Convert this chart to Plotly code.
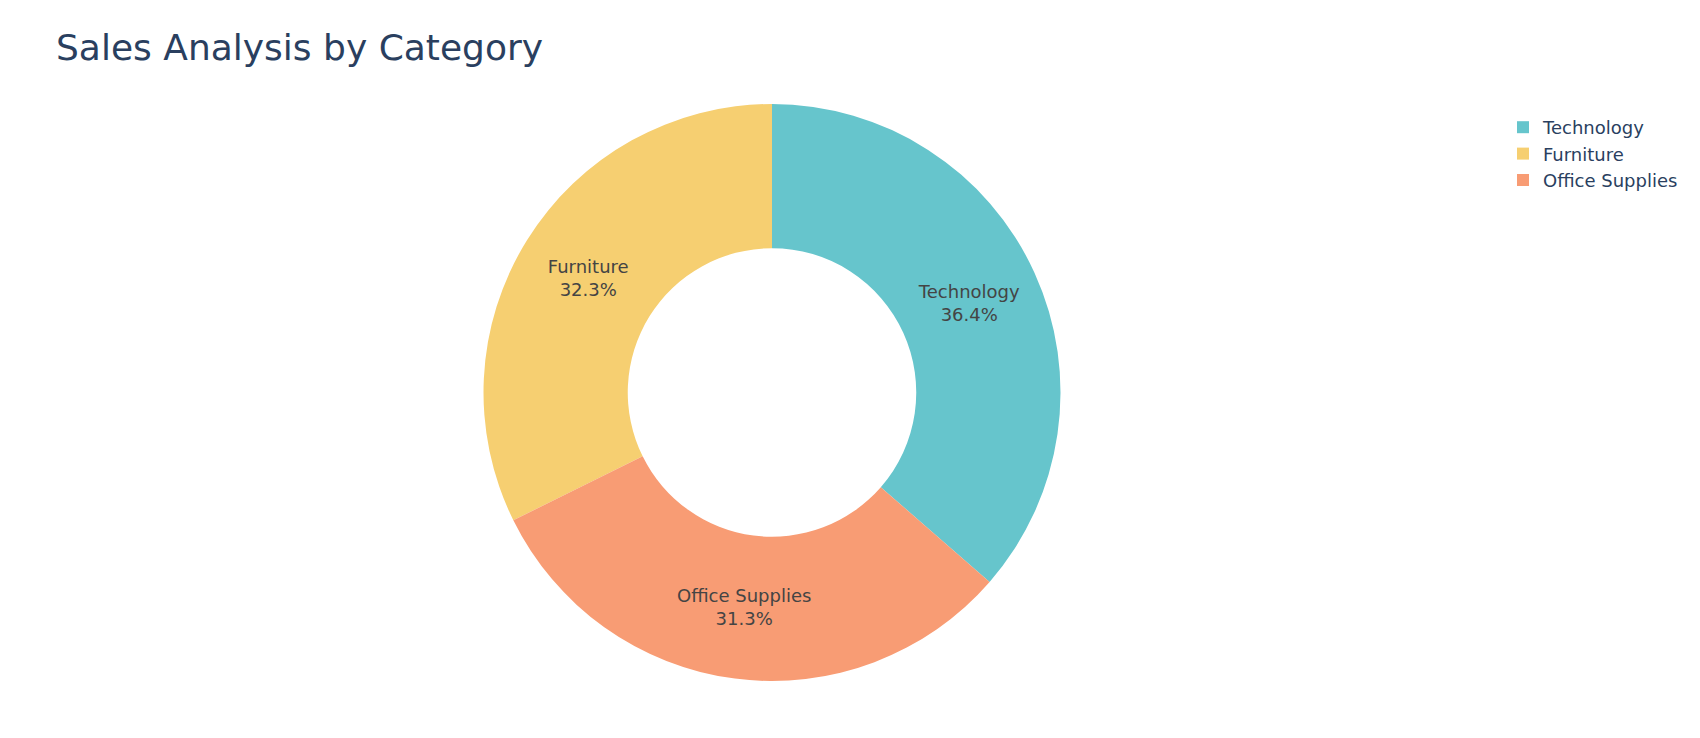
import plotly.graph_objects as go

categories = ["Technology", "Furniture", "Office Supplies"]
sales = [836154.03, 741999.80, 719047.03]
colors = ["#66C5CC", "#F6CF71", "#F89C74"]

W, H = 1700, 738
mt, mb = 104, 57

fig = go.Figure(
    go.Pie(
        labels=categories,
        values=sales,
        hole=0.5,
        marker=dict(colors=colors),
        textinfo="label+percent",
        textposition="inside",
        insidetextorientation="horizontal",
        textfont=dict(family="DejaVu Sans", size=18, color="#444"),
        domain=dict(x=[0, 1544 / W], y=[0, 1]),
    )
)

fig.update_layout(
    width=W,
    height=H,
    margin=dict(l=0, r=0, t=mt, b=mb),
    paper_bgcolor="white",
    plot_bgcolor="white",
    font=dict(family="DejaVu Sans", color="#2a3f5f"),
    title=dict(
        text="Sales Analysis by Category",
        font=dict(family="DejaVu Sans", size=36, color="#2a3f5f"),
        x=56 / W,
        xanchor="left",
        xref="container",
        y=1 - 47 / H,
        yanchor="middle",
        yref="container",
    ),
    legend=dict(
        x=1503 / W,
        xanchor="left",
        y=1 - (109 - mt) / (H - mt - mb),
        yanchor="top",
        font=dict(family="DejaVu Sans", size=18, color="#2a3f5f"),
        bgcolor="rgba(0,0,0,0)",
    ),
)

fig.write_html("out.html")
